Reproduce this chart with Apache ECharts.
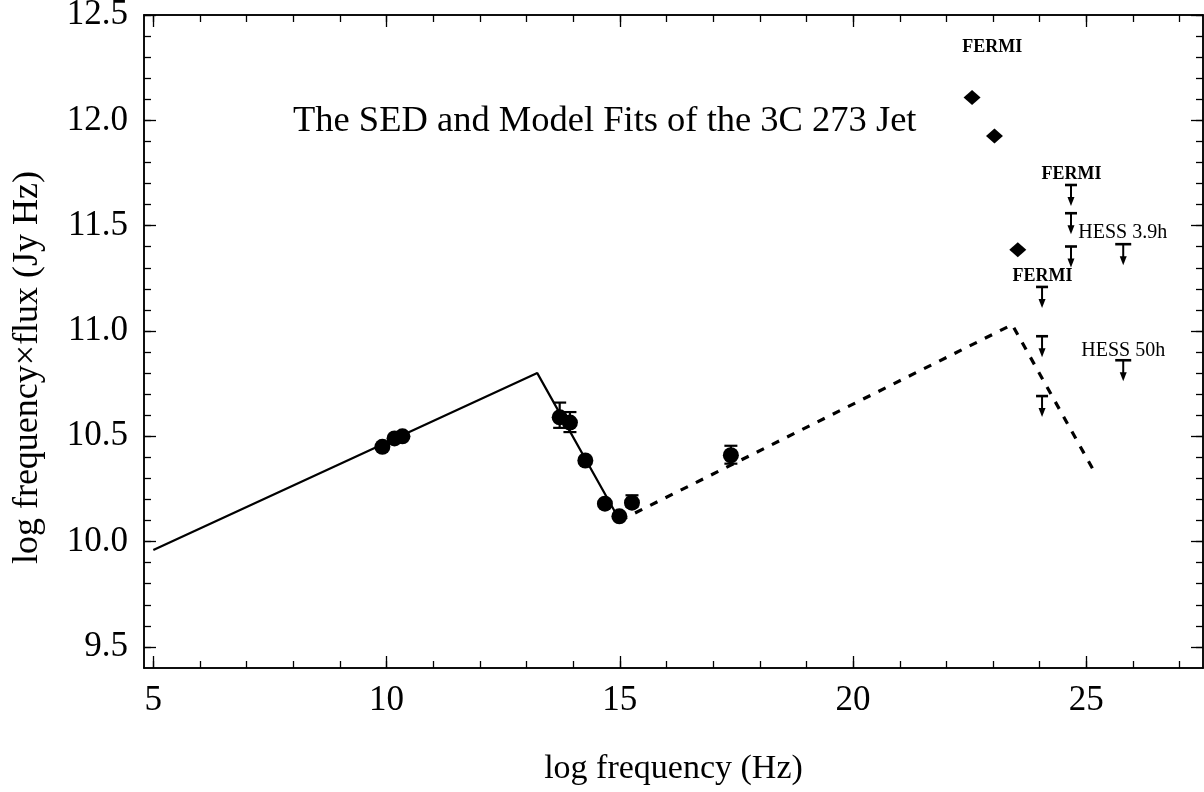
<!DOCTYPE html>
<html>
<head>
<meta charset="utf-8">
<script src="https://cdn.jsdelivr.net/npm/echarts@6/dist/echarts.min.js"></script>
<style>
html,body{margin:0;padding:0;background:#fff;}
#chart{width:1204px;height:792px;}
</style>
</head>
<body>
<div id="chart"></div>
<script>
// ---- data ----
var xTicks = [5, 10, 15, 20, 25];
var xMinor = [5, 6, 7, 8, 9, 10, 11, 12, 13, 14, 15, 16, 17, 18, 19, 20, 21, 22, 23, 24, 25, 26, 27];
var yTicks = [9.5, 10.0, 10.5, 11.0, 11.5, 12.0, 12.5];
var yMinor = [9.5, 9.6, 9.7, 9.8, 9.9, 10.0, 10.1, 10.2, 10.3, 10.4, 10.5, 10.6, 10.7, 10.8, 10.9, 11.0, 11.1, 11.2, 11.3, 11.4, 11.5, 11.6, 11.7, 11.8, 11.9, 12.0, 12.1, 12.2, 12.3, 12.4, 12.5];

var modelSolid = [[5.0, 9.96], [13.23, 10.80], [15.0, 10.10]];
var modelDashed = [[15.0, 10.10], [23.41, 11.03], [25.15, 10.34]];

var sedPoints = [[9.91, 10.45], [10.17, 10.49], [10.34, 10.50], [13.71, 10.59], [13.93, 10.565],
                 [14.26, 10.385], [14.68, 10.18], [14.99, 10.12], [15.26, 10.185], [17.38, 10.41]];
var sedErrors = [[13.71, 10.54, 10.66], [13.93, 10.52, 10.615], [15.26, 10.165, 10.22], [17.38, 10.37, 10.455]];

var fermiPoints = [[22.55, 12.108], [23.03, 11.925], [23.53, 11.385]];

var fermiLimits = [[24.67, 11.693], [24.67, 11.559], [24.67, 11.401], [24.05, 11.209], [24.05, 10.975], [24.05, 10.691]];
var hessLimits = [[25.79, 11.412], [25.79, 10.861]];

var annotTexts = ['FERMI', 'FERMI', 'FERMI', 'HESS 3.9h', 'HESS 50h'];
var annotAnchors = [[22.98, 12.347], [24.68, 11.745], [24.06, 11.258], [25.78, 11.466], [25.79, 10.907]];
var annotBold = [true, true, true, false, false];

var titleText = 'The SED and Model Fits of the 3C 273 Jet';
var xName = 'log frequency (Hz)';
var yName = 'log frequency\u00d7flux (Jy Hz)';

// ---- chart ----
var FONT = '"Liberation Serif", "DejaVu Serif", serif';
var chart = echarts.init(document.getElementById('chart'));

var XMIN = 4.8, XMAX = 27.5, YMIN = 9.4, YMAX = 12.5;

function xAx(pos, major, show) {
  return {
    type: 'value', position: pos, min: XMIN, max: XMAX,
    name: show ? xName : '', nameLocation: 'middle', nameGap: 84,
    nameTextStyle: { fontFamily: FONT, fontSize: 34, color: '#000' },
    axisLine: { show: true, onZero: false, lineStyle: { color: '#000', width: 1.5 } },
    axisTick: { show: true, inside: true, length: major ? 12 : 7, customValues: major ? xTicks : xMinor,
                lineStyle: { color: '#000', width: 1.3 } },
    axisLabel: { show: show, customValues: xTicks, margin: 15, fontFamily: FONT, fontSize: 35, color: '#000',
                 formatter: function (v) { return String(v); } },
    splitLine: { show: false }
  };
}
function yAx(pos, major, show) {
  return {
    type: 'value', position: pos, min: YMIN, max: YMAX,
    name: show ? yName : '', nameLocation: 'middle', nameGap: 98,
    nameTextStyle: { fontFamily: FONT, fontSize: 36, color: '#000', padding: [0, 52, 0, 0] },
    axisLine: { show: true, onZero: false, lineStyle: { color: '#000', width: 1.5 } },
    axisTick: { show: true, inside: true, length: major ? 12 : 7, customValues: major ? yTicks : yMinor,
                lineStyle: { color: '#000', width: 1.3 } },
    axisLabel: { show: show, customValues: yTicks, margin: 16, fontFamily: FONT, fontSize: 35, color: '#000',
                 formatter: function (v) { return v.toFixed(1); } },
    splitLine: { show: false }
  };
}

function limitSeries(data, capW) {
  return {
    type: 'custom', xAxisIndex: 0, yAxisIndex: 0, data: data, z: 5,
    renderItem: function (params, api) {
      var p = api.coord([api.value(0), api.value(1)]);
      var x = p[0], y = p[1], len = 21;
      return {
        type: 'group', children: [
          { type: 'line', shape: { x1: x - capW / 2, y1: y, x2: x + capW / 2, y2: y }, style: { stroke: '#000', lineWidth: 2.6 } },
          { type: 'line', shape: { x1: x, y1: y, x2: x, y2: y + len - 6 }, style: { stroke: '#000', lineWidth: 2 } },
          { type: 'polygon', shape: { points: [[x - 3.5, y + len - 9], [x + 3.5, y + len - 9], [x, y + len]] }, style: { fill: '#000' } }
        ]
      };
    }
  };
}

var option = {
  backgroundColor: '#fff',
  animation: false,
  grid: { left: 144, right: 1, top: 15, bottom: 124, containLabel: false, outerBoundsMode: 'none' },
  xAxis: [xAx('bottom', true, true), xAx('bottom', false, false), xAx('top', true, false), xAx('top', false, false)],
  yAxis: [yAx('left', true, true), yAx('left', false, false), yAx('right', true, false), yAx('right', false, false)],
  graphic: [{
    type: 'text', left: 293, top: 103,
    style: { text: titleText, fontFamily: FONT, fontSize: 36.5, fill: '#000' }
  }],
  series: [
    { type: 'line', data: modelSolid, symbol: 'none', lineStyle: { color: '#000', width: 2.2 }, z: 2 },
    { type: 'line', data: modelDashed, symbol: 'none', lineStyle: { color: '#000', width: 3.2, type: [8, 9] }, z: 2 },
    {
      type: 'custom', data: sedErrors, z: 4,
      renderItem: function (params, api) {
        var x = api.value(0);
        var lo = api.coord([x, api.value(1)]);
        var hi = api.coord([x, api.value(2)]);
        var w = 13;
        var st = { stroke: '#000', lineWidth: 2.2 };
        return {
          type: 'group', children: [
            { type: 'line', shape: { x1: lo[0], y1: lo[1], x2: hi[0], y2: hi[1] }, style: st },
            { type: 'line', shape: { x1: lo[0] - w / 2, y1: lo[1], x2: lo[0] + w / 2, y2: lo[1] }, style: st },
            { type: 'line', shape: { x1: hi[0] - w / 2, y1: hi[1], x2: hi[0] + w / 2, y2: hi[1] }, style: st }
          ]
        };
      }
    },
    { type: 'scatter', data: sedPoints, symbol: 'circle', symbolSize: 16, itemStyle: { color: '#000', opacity: 1 }, z: 3 },
    { type: 'scatter', data: fermiPoints, symbol: 'diamond', symbolSize: [17, 15], itemStyle: { color: '#000', opacity: 1 }, z: 3 },
    limitSeries(fermiLimits, 12),
    limitSeries(hessLimits, 16),
    {
      type: 'custom', z: 6,
      data: annotAnchors.map(function (a, i) { return [a[0], a[1], i]; }),
      renderItem: function (params, api) {
        var i = api.value(2);
        var p = api.coord([api.value(0), api.value(1)]);
        return {
          type: 'text', x: p[0], y: p[1],
          style: { text: annotTexts[i], fontFamily: FONT, fontSize: annotBold[i] ? 18 : 20, fontWeight: annotBold[i] ? 'bold' : 'normal',
                   fill: '#000', align: 'center', verticalAlign: 'middle' }
        };
      }
    }
  ]
};
chart.setOption(option);
</script>
</body>
</html>
